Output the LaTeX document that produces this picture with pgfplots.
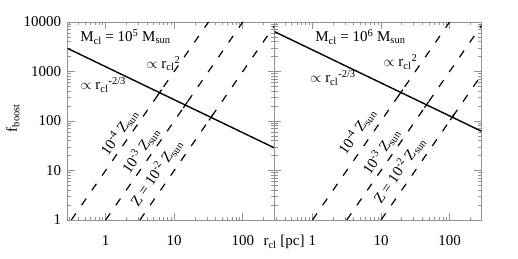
\documentclass[border=0pt]{standalone}
\usepackage{fontspec}
\setmainfont{Liberation Serif}
\usepackage{pgfplots}
\pgfplotsset{compat=1.18}
\newcommand{\fs}{\fontsize{15}{18}\selectfont}
\pgfplotsset{
  zline/.style={black, line width=1.2pt, dash pattern=on 8pt off 10pt},
  zmark/.style={black, line width=1.2pt},
}
\tikzset{zlab/.style={rotate=55.2, anchor=base west, inner sep=0pt, font=\fs}}
\begin{document}
\begin{tikzpicture}[x=1pt,y=1pt]
\path[use as bounding box] (0,0) rectangle (518,259);
% ---------------- left panel ----------------
\begin{axis}[
    xmode=log, ymode=log,
    scale only axis, width=206.8pt, height=198pt,
    xmin=0.28, xmax=290, ymin=1, ymax=10000,
    xtick={1,10,100}, xticklabels={1,10,100},
    ytick={1,10,100,1000,10000},
    minor xtick={0.3,0.4,0.5,0.6,0.7,0.8,0.9,2,3,4,5,6,7,8,9,20,30,40,50,60,70,80,90,200},
    minor ytick={2,3,4,5,6,7,8,9,20,30,40,50,60,70,80,90,200,300,400,500,600,700,800,900,2000,3000,4000,5000,6000,7000,8000,9000},
    tick align=inside, xtick pos=both, ytick pos=both,
    major tick length=7pt, minor tick length=3.5pt,
    axis line style={color=gray!85, line width=0.9pt},
    tick style={color=gray!85, line width=0.7pt},
    tick label style={font=\fs, /pgf/number format/assume math mode=true},
    xticklabel style={anchor=base, yshift=-25pt},
    yticklabel style={xshift=-3pt},
    clip mode=individual,
    at={(67.7pt,39pt)}, anchor=south west,
    yticklabels={1,10,100,1000,10000}]
\addplot[black, line width=1.4pt] coordinates {(0.28,2920.8) (290,28.53)};
\addplot[zline] coordinates {(0.3162,1) (31.62,10000)};
\addplot[zline] coordinates {(1,1) (100,10000)};
\addplot[zline] coordinates {(3.162,1) (316.2,10000)};
\addplot[zmark] coordinates {(5.714,326.6) (6.542,428.1)};
\addplot[zmark] coordinates {(13.55,183.6) (15.52,240.7)};
\addplot[zmark] coordinates {(32.13,103.2) (36.79,135.3)};
\node[anchor=base west, font=\fs] at (rel axis cs:0.044,0.90) {M\textsubscript{cl} = 10\textsuperscript{5} M\textsubscript{sun}};
\node[anchor=base west, font=\fs] at (rel axis cs:0.045,0.657) {$\propto$ r\textsubscript{cl}\textsuperscript{-2/3}};
\node[anchor=base west, font=\fs] at (rel axis cs:0.364,0.766) {$\propto$ r\textsubscript{cl}\textsuperscript{2}};
\node[zlab] at (rel axis cs:0.195,0.318) {10\textsuperscript{-4} Z\textsubscript{sun}};
\node[zlab] at (rel axis cs:0.299,0.227) {10\textsuperscript{-3} Z\textsubscript{sun}};
\node[zlab] at (rel axis cs:0.340,0.063) {Z = 10\textsuperscript{-2} Z\textsubscript{sun}};
\node[rotate=90, font=\fs] at (rel axis cs:-0.265,0.515) {f\textsubscript{boost}};
\node[anchor=base, font=\fs] at (rel axis cs:1.046,-0.131) {r\textsubscript{cl} [pc]};
\end{axis}
% ---------------- right panel ----------------
\begin{axis}[
    xmode=log, ymode=log,
    scale only axis, width=206.8pt, height=198pt,
    xmin=0.28, xmax=290, ymin=1, ymax=10000,
    xtick={1,10,100}, xticklabels={1,10,100},
    ytick={1,10,100,1000,10000},
    minor xtick={0.3,0.4,0.5,0.6,0.7,0.8,0.9,2,3,4,5,6,7,8,9,20,30,40,50,60,70,80,90,200},
    minor ytick={2,3,4,5,6,7,8,9,20,30,40,50,60,70,80,90,200,300,400,500,600,700,800,900,2000,3000,4000,5000,6000,7000,8000,9000},
    tick align=inside, xtick pos=both, ytick pos=both,
    major tick length=7pt, minor tick length=3.5pt,
    axis line style={color=gray!85, line width=0.9pt},
    tick style={color=gray!85, line width=0.7pt},
    tick label style={font=\fs, /pgf/number format/assume math mode=true},
    xticklabel style={anchor=base, yshift=-25pt},
    clip mode=individual,
    at={(274.5pt,39pt)}, anchor=south west,
    yticklabels={}]
\addplot[black, line width=1.4pt] coordinates {(0.28,6379) (290,62.3)};
\addplot[zline] coordinates {(1,1) (100,10000)};
\addplot[zline] coordinates {(3.162,1) (316.2,10000)};
\addplot[zline] coordinates {(10,1) (1000,10000)};
\addplot[zmark] coordinates {(18.16,329.8) (20.79,432.3)};
\addplot[zmark] coordinates {(43.07,185.5) (49.31,243.2)};
\addplot[zmark] coordinates {(102.1,104.3) (116.9,136.7)};
\node[anchor=base west, font=\fs] at (rel axis cs:0.180,0.90) {M\textsubscript{cl} = 10\textsuperscript{6} M\textsubscript{sun}};
\node[anchor=base west, font=\fs] at (rel axis cs:0.156,0.693) {$\propto$ r\textsubscript{cl}\textsuperscript{-2/3}};
\node[anchor=base west, font=\fs] at (rel axis cs:0.510,0.773) {$\propto$ r\textsubscript{cl}\textsuperscript{2}};
\node[zlab] at (rel axis cs:0.345,0.323) {10\textsuperscript{-4} Z\textsubscript{sun}};
\node[zlab] at (rel axis cs:0.462,0.222) {10\textsuperscript{-3} Z\textsubscript{sun}};
\node[zlab] at (rel axis cs:0.515,0.076) {Z = 10\textsuperscript{-2} Z\textsubscript{sun}};
\end{axis}
\end{tikzpicture}
\end{document}
